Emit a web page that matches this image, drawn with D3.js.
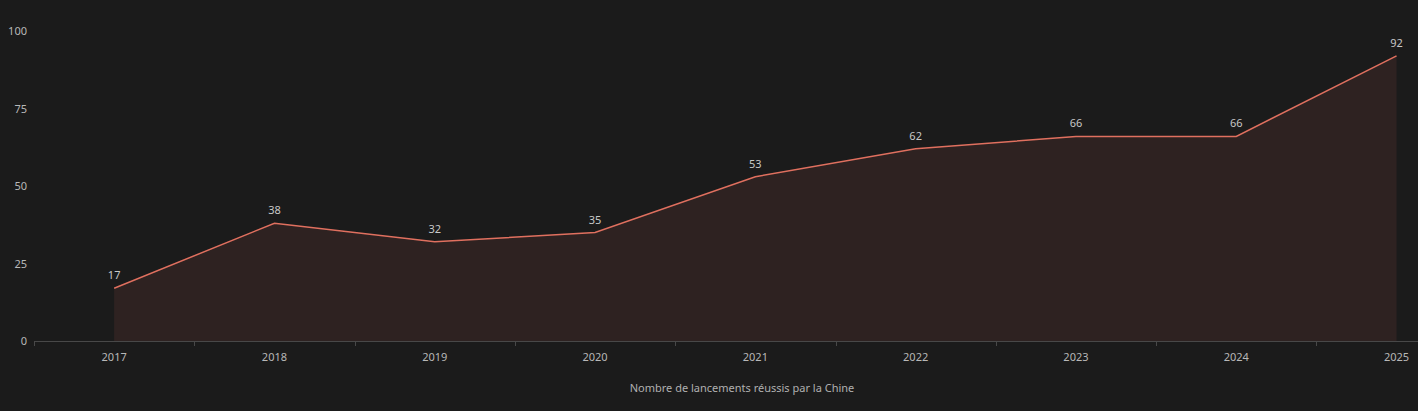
<!DOCTYPE html>
<html>
<head>
<meta charset="utf-8">
<script src="https://cdn.jsdelivr.net/npm/d3@7"></script>
<style>
html,body{margin:0;padding:0;background:#1b1b1b;}
svg{display:block;}
text{font-family:"Noto Sans","Open Sans",sans-serif;}
</style>
</head>
<body>
<svg id="chart" width="1418" height="411"></svg>
<script>
const years = ["2017","2018","2019","2020","2021","2022","2023","2024","2025"];
const launches = [17, 38, 32, 35, 53, 62, 66, 66, 92];
const yTicks = [0, 25, 50, 75, 100];
const axisTitle = "Nombre de lancements réussis par la Chine";

const W = 1418, H = 411;
const svg = d3.select("#chart");
svg.append("rect").attr("width", W).attr("height", H).attr("fill", "#1b1b1b");

const left = 34, step = 160.3;
const x = d3.scaleBand().domain(years).range([left, left + step * years.length]).padding(0);
const y = d3.scaleLinear().domain([0, 100]).range([341, 31]);
const cx = d => x(d) + x.bandwidth() / 2;

const data = years.map((yr, i) => ({ yr, v: launches[i] }));

// area
const area = d3.area().x(d => cx(d.yr)).y0(y(0)).y1(d => y(d.v));
svg.append("path").datum(data).attr("d", area).attr("fill", "#2e2221");

// line
const line = d3.line().x(d => cx(d.yr)).y(d => y(d.v));
svg.append("path").datum(data).attr("d", line)
  .attr("fill", "none").attr("stroke", "#e0705f").attr("stroke-width", 1.5);

// x axis baseline
svg.append("line").attr("x1", left).attr("x2", W).attr("y1", y(0) + 0.5).attr("y2", y(0) + 0.5)
  .attr("stroke", "#484848").attr("stroke-width", 1);

// ticks at band boundaries
svg.selectAll(".xtick").data(years).join("line")
  .attr("x1", d => Math.round(x(d)) + 0.5).attr("x2", d => Math.round(x(d)) + 0.5)
  .attr("y1", y(0)).attr("y2", y(0) + 5)
  .attr("stroke", "#484848");

// x tick labels
svg.selectAll(".xlab").data(years).join("text")
  .attr("x", d => cx(d)).attr("y", 361)
  .attr("text-anchor", "middle").attr("font-size", 11).attr("fill", "#b8b8b8")
  .text(d => d);

// y tick labels
svg.selectAll(".ylab").data(yTicks).join("text")
  .attr("x", 27).attr("y", d => y(d) + 4)
  .attr("text-anchor", "end").attr("font-size", 11).attr("fill", "#b8b8b8")
  .text(d => d);

// value labels
svg.selectAll(".vlab").data(data).join("text")
  .attr("x", d => cx(d.yr)).attr("y", d => y(d.v) - 9)
  .attr("text-anchor", "middle").attr("font-size", 11).attr("fill", "#c8c8c8")
  .text(d => d.v);

// axis title
svg.append("text").attr("x", 742).attr("y", 392)
  .attr("text-anchor", "middle").attr("font-size", 11).attr("fill", "#b0b0b0")
  .text(axisTitle);
</script>
</body>
</html>
